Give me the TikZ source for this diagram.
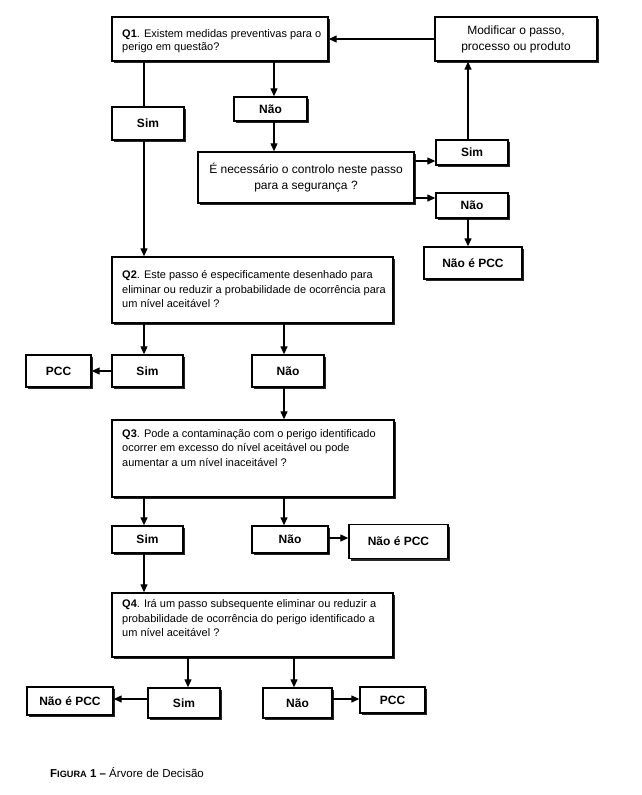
\documentclass[tikz,border=0pt]{standalone}
\usepackage{fontspec}
\setmainfont{Liberation Sans}
\usetikzlibrary{arrows.meta,shadows}
\tikzset{
  box/.style={draw=black, line width=1.4pt, fill=white, inner sep=0pt,
    drop shadow={shadow xshift=2.4pt, shadow yshift=-2.4pt, fill=black, opacity=0.85},
    font=\fontsize{12}{14}\selectfont\bfseries},
  plainbox/.style={box, align=center, font=\fontsize{12}{16}\selectfont},
  qtext/.style={anchor=north west, inner sep=0pt, align=left, font=\fontsize{11}{14.8}\selectfont},
  arr/.style={-{Triangle[length=8pt,width=7pt]}, line width=1.3pt},
  ln/.style={line width=1.3pt}
}
\begin{document}
\begin{tikzpicture}[x=1pt,y=-1pt]
\useasboundingbox (0,0) rectangle (641,795);
\fill[white] (0,0) rectangle (641,795);

% guide coordinates
\coordinate (xa) at (144,0);
\coordinate (xb) at (274,0);
\coordinate (xc) at (468,0);
\coordinate (xd) at (284,0);
\coordinate (xf) at (188,0);
\coordinate (xg) at (294,0);
\coordinate (ya) at (0,161);
\coordinate (yb) at (0,198);
\coordinate (yc) at (0,538);
\coordinate (yd) at (0,699);
\coordinate (ye) at (0,371);

% ---- Q1 level
\node[box, minimum width=216pt, minimum height=44pt] (Q1) at (220,39) {};
\node[qtext, font=\fontsize{11}{13}\selectfont] (Q1t) at (122,29) {\textbf{Q1}. Existem medidas preventivas para o\\perigo em questão?};
\node[plainbox, minimum width=162pt, minimum height=44pt] (Mod) at (516,39) {Modificar o passo,\\processo ou produto};
\node[box, minimum width=72pt, minimum height=33pt] (Sim1) at (148,123.5) {Sim};
\node[box, minimum width=73pt, minimum height=24pt] (Nao1) at (270.5,109) {Não};
\node[plainbox, minimum width=216pt, minimum height=51pt] (E) at (306,177.5) {É necessário o controlo neste passo\\para a segurança ?};
\node[box, minimum width=72pt, minimum height=25pt] (Sim2) at (472,152.5) {Sim};
\node[box, minimum width=72pt, minimum height=25pt] (Nao2) at (472,205.5) {Não};
\node[box, minimum width=98pt, minimum height=32pt] (NPCC1) at (473,263) {Não é PCC};

% ---- Q2 level
\node[box, minimum width=281pt, minimum height=66pt] (Q2) at (252.5,290) {};
\node[qtext] (Q2t) at (122,270) {\textbf{Q2}. Este passo é especificamente desenhado para\\eliminar ou reduzir a probabilidade de ocorrência para\\um nível aceitável ?};
\node[box, minimum width=65pt, minimum height=32pt] (PCC2) at (58.5,371) {PCC};
\node[box, minimum width=71pt, minimum height=32pt] (Sim3) at (147.5,371) {Sim};
\node[box, minimum width=72pt, minimum height=32pt] (Nao3) at (288,371) {Não};

% ---- Q3 level
\node[box, minimum width=282pt, minimum height=77pt] (Q3) at (253,458.5) {};
\node[qtext] (Q3t) at (122,429) {\textbf{Q3}. Pode a contaminação com o perigo identificado\\ocorrer em excesso do nível aceitável ou pode\\aumentar a um nível inaceitável ?};
\node[box, minimum width=71pt, minimum height=27pt] (Sim5) at (147.5,539.5) {Sim};
\node[box, minimum width=76pt, minimum height=27pt] (Nao5) at (290,539.5) {Não};
\node[box, minimum width=99pt, minimum height=34pt] (NPCC5) at (398.5,541.5) {Não é PCC};

% ---- Q4 level
\node[box, minimum width=281pt, minimum height=64pt] (Q4) at (252.5,625) {};
\node[qtext] (Q4t) at (122,599) {\textbf{Q4}. Irá um passo subsequente eliminar ou reduzir a\\probabilidade de ocorrência do perigo identificado a\\um nível aceitável ?};
\node[box, minimum width=72pt, minimum height=30pt] (Sim4) at (184,703) {Sim};
\node[box, minimum width=69pt, minimum height=30pt] (Nao4) at (297.5,703) {Não};
\node[box, minimum width=86pt, minimum height=28pt] (NPCC4) at (70,701) {Não é PCC};
\node[box, minimum width=65pt, minimum height=26pt] (PCC4) at (392.5,700) {PCC};

% ---- caption
\node[anchor=base west, inner sep=0pt, font=\fontsize{11.5}{13}\selectfont] (cap) at (50,777)
  {\textbf{F{\fontsize{9.2}{11}\selectfont IGURA} 1 –} Árvore de Decisão};

% ---- connectors
\draw[arr] (Mod.west) -- (Q1.east);
\draw[ln] (Q1.south -| xa) -- (Sim1.north -| xa);
\draw[arr] (Sim1.south -| xa) -- (Q2.north -| xa);
\draw[arr] (Q1.south -| xb) -- (Nao1.north -| xb);
\draw[arr] (Nao1.south -| xb) -- (E.north -| xb);
\draw[arr] (E.east |- ya) -- (Sim2.west |- ya);
\draw[arr] (E.east |- yb) -- (Nao2.west |- yb);
\draw[arr] (Sim2.north -| xc) -- (Mod.south -| xc);
\draw[arr] (Nao2.south -| xc) -- (NPCC1.north -| xc);

\draw[arr] (Q2.south -| xa) -- (Sim3.north -| xa);
\draw[arr] (Q2.south -| xd) -- (Nao3.north -| xd);
\draw[arr] (Sim3.west |- ye) -- (PCC2.east |- ye);
\draw[arr] (Nao3.south -| xd) -- (Q3.north -| xd);

\draw[arr] (Q3.south -| xa) -- (Sim5.north -| xa);
\draw[arr] (Q3.south -| xd) -- (Nao5.north -| xd);
\draw[arr] (Nao5.east |- yc) -- (NPCC5.west |- yc);
\draw[arr] (Sim5.south -| xa) -- (Q4.north -| xa);

\draw[arr] (Q4.south -| xf) -- (Sim4.north -| xf);
\draw[arr] (Q4.south -| xg) -- (Nao4.north -| xg);
\draw[arr] (Sim4.west |- yd) -- (NPCC4.east |- yd);
\draw[arr] (Nao4.east |- yd) -- (PCC4.west |- yd);
\end{tikzpicture}
\end{document}
